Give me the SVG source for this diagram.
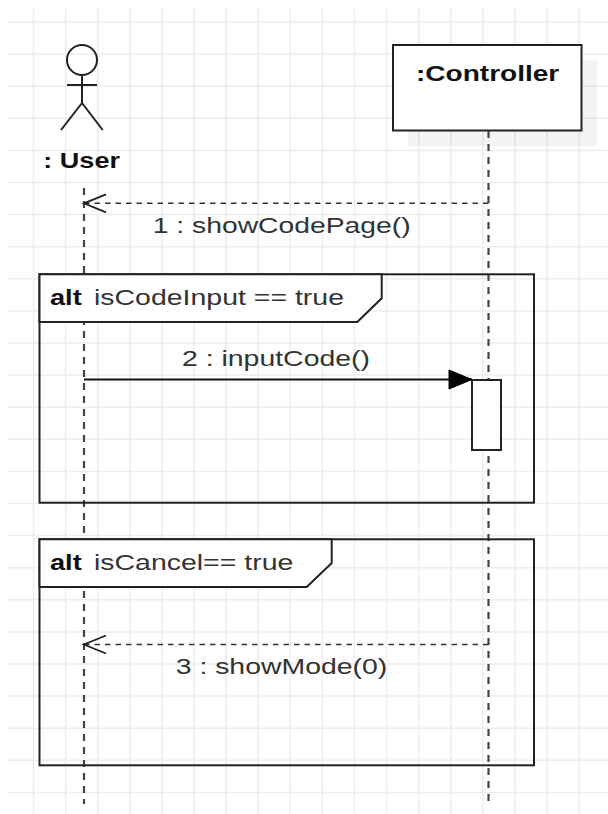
<svg xmlns="http://www.w3.org/2000/svg" width="608" height="814" viewBox="0 0 608 814">
<style>
.grid{stroke:#ededed;stroke-width:1.5;fill:none}
.ln{stroke:#222;stroke-width:2;fill:none}
.box{stroke:#222;stroke-width:2;fill:#fff}
.life{stroke:#444;stroke-width:2.2;stroke-dasharray:7 6;fill:none}
.msgd{stroke:#333;stroke-width:1.6;stroke-dasharray:5.5 5;fill:none}
.msg{stroke:#111;stroke-width:1.8;fill:none}
.t{font-family:"Liberation Sans",Arial,sans-serif;font-size:22px;fill:#333}
.b{font-family:"Liberation Sans",Arial,sans-serif;font-size:22px;font-weight:bold;fill:#111}
.lbl{fill:#fff;stroke:#222;stroke-width:2}
</style>
<defs>
<marker id="open" markerUnits="userSpaceOnUse" viewBox="-25 -12 27 24" refX="0" refY="0" markerWidth="27" markerHeight="24" orient="auto" overflow="visible">
<path d="M-22,-9 L0,0 L-22,9" fill="none" stroke="#222" stroke-width="1.8"/>
</marker>
<marker id="filled" markerUnits="userSpaceOnUse" viewBox="-25 -12 27 24" refX="0" refY="0" markerWidth="27" markerHeight="24" orient="auto" overflow="visible">
<path d="M-23,-9.5 L0,0 L-23,9.5 Z" fill="#000" stroke="#000" stroke-width="1"/>
</marker>
</defs>
<rect width="608" height="814" fill="#fff"/>
<g id="grid">
<path class="grid" d="M33.5 7V814M65.6 7V814M97.7 7V814M129.8 7V814M161.9 7V814M194 7V814M226.1 7V814M258.2 7V814M290.3 7V814M322.4 7V814M354.5 7V814M386.6 7V814M418.7 7V814M450.8 7V814M482.9 7V814M515 7V814M547.1 7V814M579.2 7V814M8 22H608M8 54.1H608M8 86.2H608M8 118.3H608M8 150.4H608M8 182.5H608M8 214.6H608M8 246.7H608M8 278.8H608M8 310.9H608M8 343H608M8 375.1H608M8 407.2H608M8 439.3H608M8 471.4H608M8 503.5H608M8 535.6H608M8 567.7H608M8 599.8H608M8 631.9H608M8 664H608M8 696.1H608M8 728.2H608M8 760.3H608M8 792.4H608"/>
</g>
<g id="user">
<circle class="ln" cx="82" cy="60" r="15"/>
<path class="ln" d="M82 75V103M67 85H97M82 103L61 130M82 103L102.7 130"/>
<text class="b" x="43.3" y="168.3" textLength="76.7" lengthAdjust="spacingAndGlyphs">: User</text>
<line class="life" x1="84" y1="188" x2="84" y2="804"/>
</g>
<g id="controller">
<rect x="408" y="60" width="189" height="86" fill="#000" fill-opacity="0.045"/>
<rect class="box" x="393" y="45" width="188.5" height="85.5"/>
<text class="b" x="416" y="81" textLength="143.3" lengthAdjust="spacingAndGlyphs">:Controller</text>
<line class="life" x1="488.5" y1="131" x2="488.5" y2="801"/>
</g>
<g id="frame-alt1">
<rect class="ln" x="39.5" y="274.3" width="494.5" height="228.4"/>
<polygon class="lbl" points="39.5,274.3 381.7,274.3 381.7,298.3 357.3,322 39.5,322"/>
<text class="b" x="50" y="305" textLength="31.7" lengthAdjust="spacingAndGlyphs">alt</text>
<text class="t" x="94" y="305" textLength="250" lengthAdjust="spacingAndGlyphs">isCodeInput == true</text>
</g>
<g id="frame-alt2">
<rect class="ln" x="39.5" y="539.3" width="494.5" height="226"/>
<polygon class="lbl" points="39.5,539.3 331.7,539.3 331.7,563 306.7,587 39.5,587"/>
<text class="b" x="50" y="570" textLength="31.7" lengthAdjust="spacingAndGlyphs">alt</text>
<text class="t" x="94" y="570" textLength="199.3" lengthAdjust="spacingAndGlyphs">isCancel== true</text>
</g>
<g id="activation">
<rect class="box" x="472" y="380" width="29" height="70"/>
</g>
<g id="connectors">
<line class="msgd" x1="488.5" y1="203.3" x2="84" y2="203.3" marker-end="url(#open)"/>
<text class="t" x="152.7" y="233.3" textLength="258" lengthAdjust="spacingAndGlyphs">1 : showCodePage()</text>
<line class="msg" x1="84" y1="379.5" x2="472" y2="379.5" marker-end="url(#filled)"/>
<text class="t" x="182" y="366" textLength="188" lengthAdjust="spacingAndGlyphs">2 : inputCode()</text>
<line class="msgd" x1="488.5" y1="644.5" x2="84" y2="644.5" marker-end="url(#open)"/>
<text class="t" x="175.7" y="674.3" textLength="211.6" lengthAdjust="spacingAndGlyphs">3 : showMode(0)</text>
</g>
</svg>
